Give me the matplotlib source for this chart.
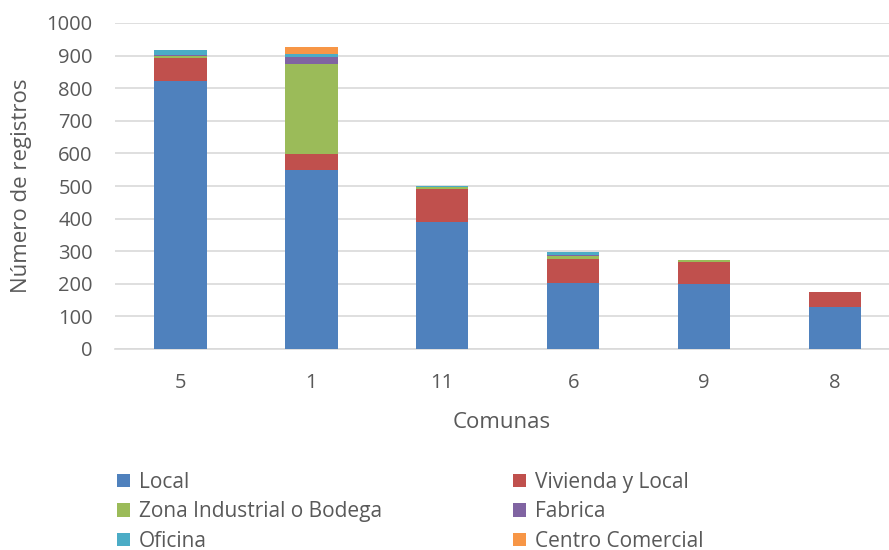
import numpy as np
import matplotlib
matplotlib.use('Agg')
import matplotlib.pyplot as plt

plt.rcParams['font.family'] = ['Open Sans', 'DejaVu Sans']

comunas = ['5', '1', '11', '6', '9', '8']

local      = [823, 549, 390, 201, 198, 129]
vivienda   = [71, 50, 102, 76, 70, 47]
zona       = [5, 275, 6, 8, 4, 0]
fabrica    = [2, 23, 0, 3, 0, 0]
oficina    = [15, 8, 2, 10, 1, 0]
c_comercial = [0, 22, 0, 0, 0, 0]

series = [
    ('Local', local, '#4F81BD'),
    ('Vivienda y Local', vivienda, '#C0504D'),
    ('Zona Industrial o Bodega', zona, '#9BBB59'),
    ('Fabrica', fabrica, '#8064A2'),
    ('Oficina', oficina, '#4BACC6'),
    ('Centro Comercial', c_comercial, '#F79646'),
]

txt = '#595959'

fig = plt.figure(figsize=(8.89, 5.5), dpi=100)
ax = fig.add_axes([115/889, 1-349/550, 1-115/889, (349-23)/550])

x = np.arange(len(comunas))
bottom = np.zeros(len(comunas))
handles = {}
for name, vals, col in series:
    b = ax.bar(x, vals, 0.4, bottom=bottom, color=col, label=name, zorder=3)
    handles[name] = b
    bottom += np.array(vals)

ax.set_ylim(0, 1000)
ax.set_yticks(range(0, 1001, 100))
ax.set_xlim(-0.5, 5.5 - 11.5/131)
ax.set_xticks(x)
ax.set_xticklabels(comunas)
ax.grid(axis='y', color='#D9D9D9', linewidth=1.2, zorder=0)
for s in ['top', 'right', 'left']:
    ax.spines[s].set_visible(False)
ax.spines['bottom'].set_color('#D9D9D9')
ax.spines['bottom'].set_linewidth(1.2)
ax.tick_params(axis='both', length=0, labelsize=14.5, colors=txt)
ax.tick_params(axis='x', pad=17)
ax.tick_params(axis='y', pad=16)

ax.set_ylabel('Número de registros', fontsize=16, color=txt)
ax.yaxis.set_label_coords(-83/774, 0.5)
ax.set_xlabel('Comunas', fontsize=16, color=txt, labelpad=14)

order = ['Local', 'Zona Industrial o Bodega', 'Oficina',
         'Vivienda y Local', 'Fabrica', 'Centro Comercial']
leg = fig.legend([handles[n] for n in order], order, ncol=2,
                 loc='upper left', bbox_to_anchor=(117/889, 1-472/550),
                 frameon=False, fontsize=15, labelcolor=txt,
                 handlelength=0.6, handleheight=0.6, handletextpad=0.45,
                 labelspacing=0.4, columnspacing=6.3, borderaxespad=0,
                 borderpad=0)

fig.savefig('out.png', dpi=100)
